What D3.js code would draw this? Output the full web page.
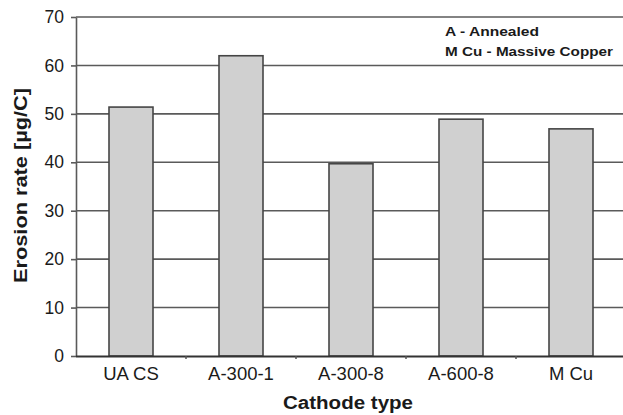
<!DOCTYPE html>
<html>
<head>
<meta charset="utf-8">
<script src="https://cdn.jsdelivr.net/npm/d3@7"></script>
<style>
  html, body { margin: 0; padding: 0; background: #fff; }
  svg { display: block; }
  text { font-family: "Liberation Sans", Arial, Helvetica, sans-serif; fill: #1a1a1a; }
</style>
</head>
<body>
<svg id="chart" width="623" height="415"></svg>
<script>
// Erosion rate per cathode type
const categories = ["UA CS", "A-300-1", "A-300-8", "A-600-8", "M Cu"];
const erosionRate = [51.4, 62.0, 39.7, 48.9, 46.9];
const yTicks = [0, 10, 20, 30, 40, 50, 60, 70];
const legendLines = ["A - Annealed", "M Cu - Massive Copper"];

(function draw() {
  const svg = d3.select("#chart");
  const W = 623;
  const plotLeft = 76, plotRight = 626, plotTop = 17, plotBottom = 356;

  const x = d3.scaleBand().domain(categories).range([plotLeft, plotRight])
    .paddingInner(0.6).paddingOuter(0.3);
  const y = d3.scaleLinear().domain([0, 70]).range([plotBottom, plotTop]);

  const gridColor = "#5a5a5a";

  // horizontal grid lines
  svg.append("g").selectAll("line").data(yTicks.filter(d => d > 0)).join("line")
    .attr("x1", plotLeft).attr("x2", W)
    .attr("y1", d => y(d)).attr("y2", d => y(d))
    .attr("stroke", gridColor).attr("stroke-width", 1.6);

  // y axis
  const yAxis = svg.append("g").attr("transform", `translate(${plotLeft},0)`)
    .call(d3.axisLeft(y).tickValues(yTicks).tickSize(5).tickSizeOuter(0).tickPadding(7));
  yAxis.select(".domain").attr("stroke", gridColor).attr("stroke-width", 1.6);
  yAxis.selectAll(".tick line").attr("stroke", gridColor).attr("stroke-width", 1.6);
  yAxis.selectAll(".tick text").attr("font-size", 17.5).attr("fill", "#1a1a1a")
    .attr("font-family", "Liberation Sans, Arial, sans-serif");

  // bars
  svg.append("g").selectAll("rect").data(categories).join("rect")
    .attr("x", d => x(d))
    .attr("y", (d, i) => y(erosionRate[i]))
    .attr("width", x.bandwidth())
    .attr("height", (d, i) => y(0) - y(erosionRate[i]))
    .attr("fill", "#d0d0d0")
    .attr("stroke", "#454545").attr("stroke-width", 1.6);

  // x axis
  const xAxis = svg.append("g").attr("transform", `translate(0,${plotBottom})`)
    .call(d3.axisBottom(x).tickSize(0).tickPadding(0));
  xAxis.select(".domain").attr("d", `M${plotLeft},0.5H${W}`).attr("stroke", "#333").attr("stroke-width", 1.8);
  xAxis.selectAll(".tick text").attr("font-size", 18.5).attr("fill", "#1a1a1a")
    .attr("font-family", "Liberation Sans, Arial, sans-serif")
    .attr("y", 24).attr("dy", null);

  // small separators between categories
  const step = x.step();
  svg.append("g").selectAll("line").data(d3.range(1, categories.length)).join("line")
    .attr("x1", i => plotLeft + i * step).attr("x2", i => plotLeft + i * step)
    .attr("y1", plotBottom).attr("y2", plotBottom + 3)
    .attr("stroke", "#555").attr("stroke-width", 1.5);

  // axis titles
  svg.append("text")
    .attr("x", 283).attr("y", 409)
    .attr("font-weight", "bold").attr("font-size", 18)
    .attr("textLength", 130).attr("lengthAdjust", "spacingAndGlyphs")
    .text("Cathode type");

  svg.append("text")
    .attr("transform", "translate(27,283) rotate(-90)")
    .attr("font-weight", "bold").attr("font-size", 18)
    .attr("textLength", 195).attr("lengthAdjust", "spacingAndGlyphs")
    .text("Erosion rate [µg/C]");

  // note
  const noteWidths = [94, 168];
  svg.append("g").selectAll("text").data(legendLines).join("text")
    .attr("x", 445).attr("y", (d, i) => 36 + i * 19.5)
    .attr("font-weight", "bold").attr("font-size", 13.5)
    .attr("textLength", (d, i) => noteWidths[i]).attr("lengthAdjust", "spacingAndGlyphs")
    .text(d => d);
})();
</script>
</body>
</html>
